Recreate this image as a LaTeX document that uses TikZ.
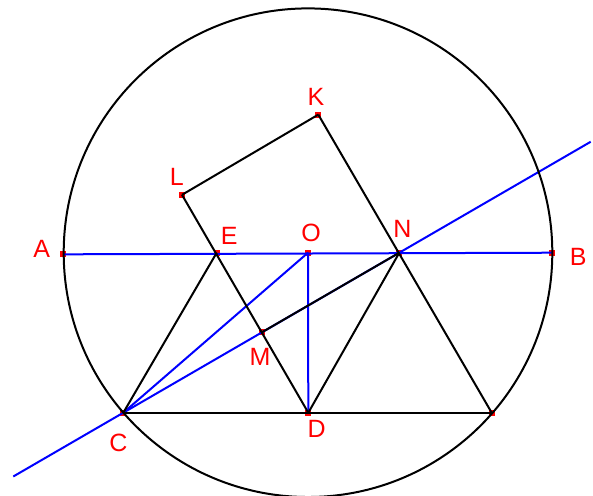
\documentclass[tikz,border=0pt]{standalone}
\usepackage{fontspec}
\setmainfont{Liberation Sans}
\usepackage{tikz}
\usetikzlibrary{calc}

\begin{document}
\begin{tikzpicture}[x=0.5pt,y=-0.5pt,
    lab/.style={text=red,font=\fontsize{12.5}{14}\selectfont,inner sep=0pt},
    blk/.style={black,line width=1pt},
    blu/.style={blue,line width=1pt}]
            \useasboundingbox (0,0) rectangle (593,495);
            % points
            \coordinate (O) at (308,252.7);
            \coordinate (A) at (63.3,254.3);
            \coordinate (B) at (552.3,252.7);
            \coordinate (C) at (123.3,412.7);
            \coordinate (D) at (308.3,412.7);
            \coordinate (R) at (491.7,412.7);
            \coordinate (E) at (216.7,252.7);
            \coordinate (N) at (399.3,252.7);
            \coordinate (M) at (261.7,332.4);
            \coordinate (L) at (182,194.8);
            \coordinate (K) at (318.3,114.6);
            \coordinate (P) at ($(C)!-0.3986!(N)$);
            \coordinate (Q) at ($(C)!1.6935!(N)$);
            % markers
            \foreach \p in {O,A,B,C,D,R,E,N,M,L,K}
                \fill[red] (\p) ++(-3,-3) rectangle ++(6,6);
            % blue lines
            \draw[blu] (A) -- (B);
            \draw[blu] (O) -- (C);
            \draw[blu] (O) -- (D);
            \draw[blu] (P) -- (Q);
            % black lines
            \draw[blk] (O) circle [radius=244.3];
            \draw[blk] (C) -- (R);
            \draw[blk] (C) -- (E);
            \draw[blk] (L) -- (D);
            \draw[blk] (D) -- (N);
            \draw[blk] (K) -- (R);
            \draw[blk] (L) -- (K);
            \draw[blk] (M) -- (N);
            % labels
            \node[lab] (lA) at (41.7,249.3) {A};
            \node[lab] (lB) at (578.3,256.7) {B};
            \node[lab] (lK) at (316,97.3) {K};
            \node[lab] (lL) at (176.7,176.7) {L};
            \node[lab] (lE) at (229.3,236) {E};
            \node[lab] (lO) at (311,232.7) {O};
            \node[lab] (lN) at (402.3,229.3) {N};
            \node[lab] (lM) at (260,356.7) {M};
            \node[lab] (lD) at (316.7,429.3) {D};
            \node[lab] (lC) at (118.3,443.3) {C};
        \end{tikzpicture}
\end{document}
